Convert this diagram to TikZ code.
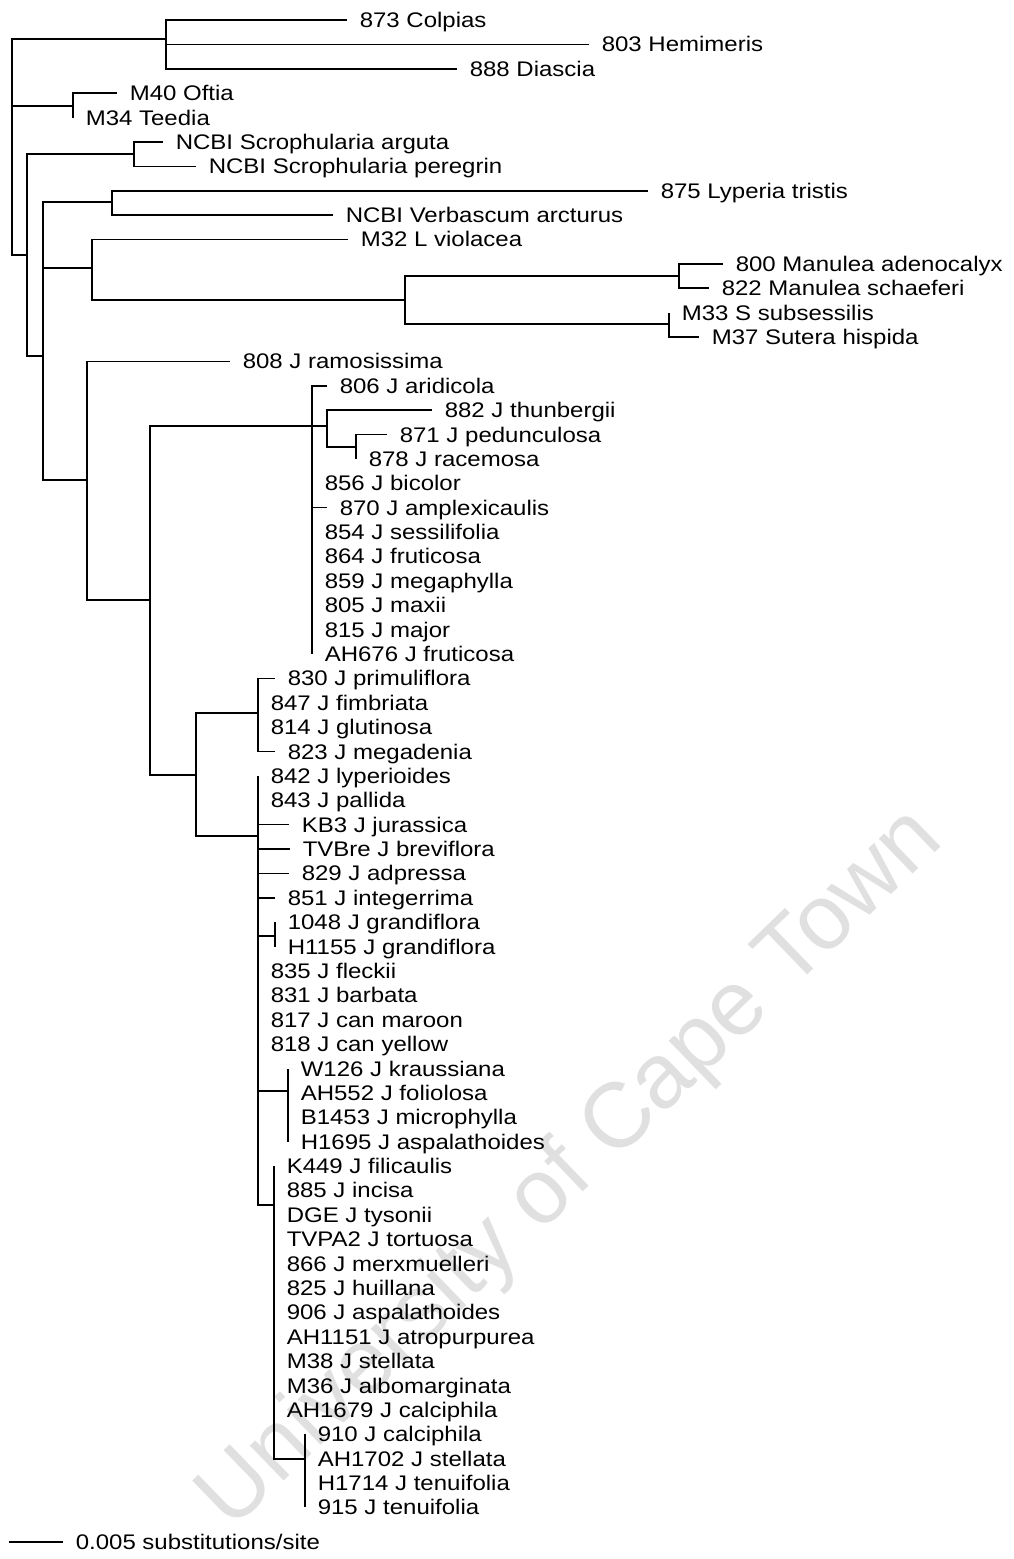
\documentclass[tikz,border=0pt]{standalone}
\usepackage{fontspec}
\setmainfont{Liberation Sans}
\usepackage{tikz}

\begin{document}
\begin{tikzpicture}[x=0.5pt, y=-0.5pt, line width=0.8pt,
  taxon/.style={anchor=west, inner xsep=6pt, inner ysep=0.5pt, text height=8.6pt, text depth=0pt,
    font=\fontsize{12}{14}\selectfont, yscale=0.88},
  wmark/.style={rotate=44, inner sep=0pt, text=black!12, font=\fontsize{46}{50}\selectfont}]
 \useasboundingbox (0,0) rectangle (1013,1559);

 \node[wmark] (uct) at (572,1170) {University of Cape Town};

 \node[taxon] (colpias) at (347,20) {873 Colpias};
 \node[taxon] (hemimeris) at (589,44.4) {803 Hemimeris};
 \node[taxon] (diascia) at (457,68.8) {888 Diascia};
 \node[taxon] (oftia) at (117,93.1) {M40 Oftia};
 \node[taxon] (teedia) at (73,117.5) {M34 Teedia};
 \node[taxon] (arguta) at (163,141.9) {NCBI Scrophularia arguta};
 \node[taxon] (peregrin) at (196,166.3) {NCBI Scrophularia peregrin};
 \node[taxon] (lyperia) at (648,190.7) {875 Lyperia tristis};
 \node[taxon] (verbascum) at (333,215) {NCBI Verbascum arcturus};
 \node[taxon] (violacea) at (348,239.4) {M32 L violacea};
 \node[taxon] (adenocalyx) at (723,263.8) {800 Manulea adenocalyx};
 \node[taxon] (schaeferi) at (709,288.2) {822 Manulea schaeferi};
 \node[taxon] (subsessilis) at (669,312.6) {M33 S subsessilis};
 \node[taxon] (hispida) at (699,337) {M37 Sutera hispida};

 \node[taxon] (ramosissima) at (230,361.3) {808 J ramosissima};
 \node[taxon] (aridicola) at (327,385.7) {806 J aridicola};
 \node[taxon] (thunbergii) at (432,410) {882 J thunbergii};
 \node[taxon] (pedunculosa) at (387,434.5) {871 J pedunculosa};
 \node[taxon] (racemosa) at (356,458.9) {878 J racemosa};
 \node[taxon] (bicolor) at (312,483.2) {856 J bicolor};
 \node[taxon] (amplexicaulis) at (327,507.6) {870 J amplexicaulis};
 \node[taxon] (sessilifolia) at (312,532) {854 J sessilifolia};
 \node[taxon] (fruticosa) at (312,556.4) {864 J fruticosa};
 \node[taxon] (megaphylla) at (312,580.8) {859 J megaphylla};
 \node[taxon] (maxii) at (312,605.2) {805 J maxii};
 \node[taxon] (major) at (312,629.5) {815 J major};
 \node[taxon] (fruticosaAH) at (312,654) {AH676 J fruticosa};

 \node[taxon] (primuliflora) at (275,678.3) {830 J primuliflora};
 \node[taxon] (fimbriata) at (258,702.7) {847 J fimbriata};
 \node[taxon] (glutinosa) at (258,727) {814 J glutinosa};
 \node[taxon] (megadenia) at (275,751.5) {823 J megadenia};
 \node[taxon] (lyperioides) at (258,775.9) {842 J lyperioides};
 \node[taxon] (pallida) at (258,800.3) {843 J pallida};
 \node[taxon] (jurassica) at (289,824.6) {KB3 J jurassica};
 \node[taxon] (breviflora) at (290,849) {TVBre J breviflora};
 \node[taxon] (adpressa) at (289,873.4) {829 J adpressa};
 \node[taxon] (integerrima) at (275,897.8) {851 J integerrima};
 \node[taxon] (grandifloraA) at (275,922.2) {1048 J grandiflora};
 \node[taxon] (grandifloraB) at (275,946.6) {H1155 J grandiflora};
 \node[taxon] (fleckii) at (258,970.9) {835 J fleckii};
 \node[taxon] (barbata) at (258,995.3) {831 J barbata};
 \node[taxon] (maroon) at (258,1019.7) {817 J can maroon};
 \node[taxon] (yellow) at (258,1044) {818 J can yellow};
 \node[taxon] (kraussiana) at (288,1068.5) {W126 J kraussiana};
 \node[taxon] (foliolosa) at (288,1092.9) {AH552 J foliolosa};
 \node[taxon] (microphylla) at (288,1117.2) {B1453 J microphylla};
 \node[taxon] (aspalathoidesH) at (288,1141.6) {H1695 J aspalathoides};
 \node[taxon] (filicaulis) at (274,1166) {K449 J filicaulis};
 \node[taxon] (incisa) at (274,1190.4) {885 J incisa};
 \node[taxon] (tysonii) at (274,1214.8) {DGE J tysonii};
 \node[taxon] (tortuosa) at (274,1239.2) {TVPA2 J tortuosa};
 \node[taxon] (merxmuelleri) at (274,1263.5) {866 J merxmuelleri};
 \node[taxon] (huillana) at (274,1288) {825 J huillana};
 \node[taxon] (aspalathoides) at (274,1312.3) {906 J aspalathoides};
 \node[taxon] (atropurpurea) at (274,1336.7) {AH1151 J atropurpurea};
 \node[taxon] (stellataM) at (274,1361) {M38 J stellata};
 \node[taxon] (albomarginata) at (274,1385.5) {M36 J albomarginata};
 \node[taxon] (calciphilaAH) at (274,1409.9) {AH1679 J calciphila};
 \node[taxon] (calciphila) at (305,1434.3) {910 J calciphila};
 \node[taxon] (stellataAH) at (305,1458.6) {AH1702 J stellata};
 \node[taxon] (tenuifoliaH) at (305,1483) {H1714 J tenuifolia};
 \node[taxon] (tenuifolia) at (305,1507.4) {915 J tenuifolia};

 \coordinate (root) at (12,150);
 \coordinate (nColpias) at (166,39);
 \coordinate (nOftia) at (73,106);
 \coordinate (nRest) at (27,255);
 \coordinate (nScroph) at (134,154);
 \coordinate (nMain) at (43,356);
 \coordinate (nLyperia) at (112,202);
 \coordinate (nViolacea) at (92,268);
 \coordinate (nManSut) at (405,300);
 \coordinate (nManulea) at (679,276);
 \coordinate (nSutera) at (669,324);
 \coordinate (nJames) at (87,480);
 \coordinate (nJ1) at (150,600);
 \coordinate (nAridicola) at (312,426);
 \coordinate (nThunb) at (327,426);
 \coordinate (nPedunc) at (356,447);
 \coordinate (nPrim) at (196,775);
 \coordinate (nGlut) at (258,713);
 \coordinate (nLyper) at (258,836);
 \coordinate (nGrand) at (275,936);
 \coordinate (nKrauss) at (288,1091);
 \coordinate (nFili) at (274,1205);
 \coordinate (nCalc) at (305,1459);

 \draw (root) |- (nColpias) (root) |- (nOftia) (root) |- (nRest);
 \draw (nColpias) |- (colpias.west) (nColpias) |- (hemimeris.west) (nColpias) |- (diascia.west);
 \draw (nOftia) |- (oftia.west) (nOftia) |- (teedia.west);
 \draw (nRest) |- (nScroph) (nRest) |- (nMain);
 \draw (nScroph) |- (arguta.west) (nScroph) |- (peregrin.west);
 \draw (nMain) |- (nLyperia) (nMain) |- (nViolacea) (nMain) |- (nJames);
 \draw (nLyperia) |- (lyperia.west) (nLyperia) |- (verbascum.west);
 \draw (nViolacea) |- (violacea.west) (nViolacea) |- (nManSut);
 \draw (nManSut) |- (nManulea) (nManSut) |- (nSutera);
 \draw (nManulea) |- (adenocalyx.west) (nManulea) |- (schaeferi.west);
 \draw (nSutera) |- (subsessilis.west) (nSutera) |- (hispida.west);

 \draw (nJames) |- (ramosissima.west) (nJames) |- (nJ1);
 \draw (nJ1) |- (nAridicola) (nJ1) |- (nPrim);
 \draw (nAridicola) |- (aridicola.west) (nAridicola) |- (nThunb)
   (nAridicola) |- (bicolor.west) (nAridicola) |- (amplexicaulis.west)
   (nAridicola) |- (fruticosaAH.west);
 \draw (nThunb) |- (thunbergii.west) (nThunb) |- (nPedunc);
 \draw (nPedunc) |- (pedunculosa.west) (nPedunc) |- (racemosa.west);

 \draw (nPrim) |- (nGlut) (nPrim) |- (nLyper);
 \draw (nGlut) |- (primuliflora.west) (nGlut) |- (megadenia.west);
 \draw (nLyper) |- (lyperioides.west) (nLyper) |- (jurassica.west)
   (nLyper) |- (breviflora.west) (nLyper) |- (adpressa.west)
   (nLyper) |- (integerrima.west) (nLyper) |- (nGrand)
   (nLyper) |- (nKrauss) (nLyper) |- (nFili);
 \draw (nGrand) |- (grandifloraA.west) (nGrand) |- (grandifloraB.west);
 \draw (nKrauss) |- (kraussiana.west) (nKrauss) |- (aspalathoidesH.west);
 \draw (nFili) |- (filicaulis.west) (nFili) |- (nCalc);
 \draw (nCalc) |- (calciphila.west) (nCalc) |- (tenuifolia.west);

 \coordinate (barstart) at (9,1542);
 \node[taxon] (barlabel) at (63,1542) {0.005 substitutions/site};
 \draw[line width=1pt] (barstart) -- (barlabel.west);
\end{tikzpicture}
\end{document}
